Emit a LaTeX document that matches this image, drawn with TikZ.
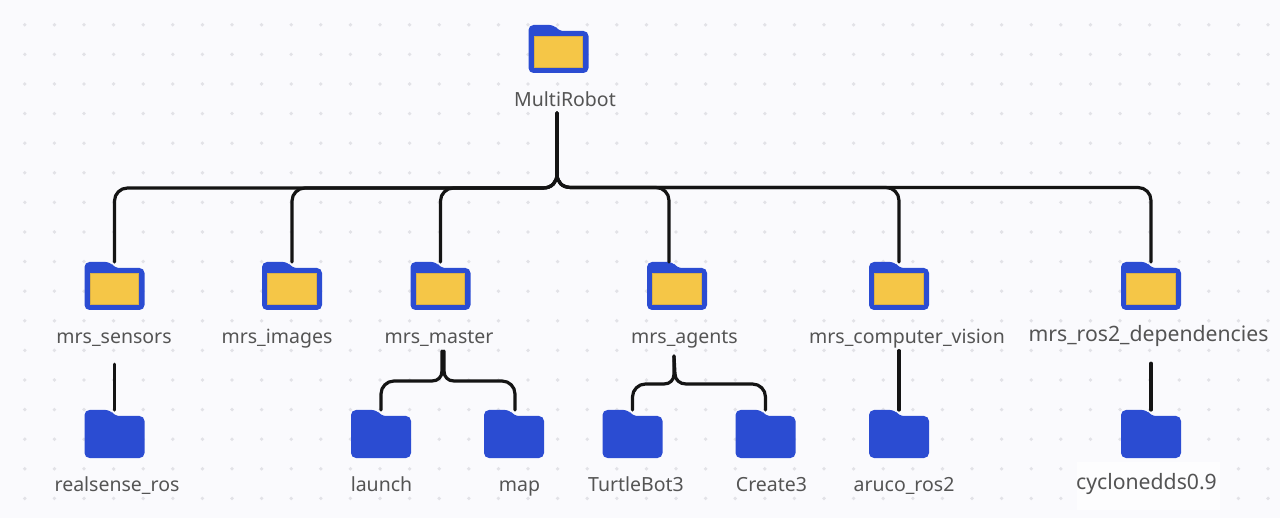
\documentclass[tikz,border=0pt]{standalone}
\usepackage{fontspec}
\setmainfont{Noto Sans}
\definecolor{bgc}{HTML}{FAFAFD}
\definecolor{dotc}{HTML}{E2E2E7}
\definecolor{blu}{HTML}{2B4CD2}
\definecolor{yel}{HTML}{F5C647}
\definecolor{yeld}{HTML}{D9B04A}
\definecolor{txt}{HTML}{545454}
\definecolor{wirec}{HTML}{141414}
\tikzset{
  x=1pt,y=-1pt,
  wire/.style={draw=wirec,line width=3.2pt,line cap=round,line join=round},
  lbl/.style={font=\fontsize{19.5}{22}\selectfont,text=txt,inner sep=0pt,text height=14pt,text depth=5pt,minimum height=28pt,anchor=center},
  lblbig/.style={lbl,font=\fontsize{21.2}{24}\selectfont},
  fold/.style={inner sep=0pt,minimum width=60pt,minimum height=48pt,outer sep=0pt},
}
% \foldershape{name}{cx}{top y}{with yellow?}
\newcommand{\foldershape}[4]{%
  \begin{scope}[shift={(#2-30,#3)}]
    \fill[blu,rounded corners=5pt] (0,0) -- (26,0) -- (30,6) -- (60,6) -- (60,48) -- (0,48) -- cycle;
    \if#41\fill[yel,draw=yeld,line width=0.5pt] (5.6,11.6) rectangle (54,42);\fi
  \end{scope}
  \node[fold] (#1) at (#2,#3+24) {};%
}
\begin{document}
\begin{tikzpicture}
\useasboundingbox (0,0) rectangle (1280,518);
\fill[bgc] (0,0) rectangle (1280,518);
\foreach \i in {0,...,43}{\foreach \j in {0,...,17}{
  \fill[dotc] ({24.8+29.6*\i},{24.8+29.6*\j}) circle (1.9pt);
}}
\fill[white!70!bgc] (1077,462) rectangle (1220,510);
% folders
\foldershape{root}{558.5}{25}{1}
\foldershape{sensors}{114.5}{262}{1}
\foldershape{images}{292}{262}{1}
\foldershape{master}{440.5}{262}{1}
\foldershape{agents}{677}{262}{1}
\foldershape{vision}{899}{262}{1}
\foldershape{deps}{1151}{262}{1}
\foldershape{realsense}{114.5}{410}{0}
\foldershape{launch}{381}{410}{0}
\foldershape{map}{514}{410}{0}
\foldershape{turtle}{632.5}{410}{0}
\foldershape{create}{765.5}{410}{0}
\foldershape{aruco}{899}{410}{0}
\foldershape{cyclone}{1151}{410}{0}
% labels
\node[lbl] (lroot) at (565,102.3) {MultiRobot};
\node[lbl] (lsensors) at (114,339) {mrs\_sensors};
\node[lbl] (limages) at (277,339) {mrs\_images};
\node[lbl] (lmaster) at (439,339) {mrs\_master};
\node[lbl] (lagents) at (684.5,339) {mrs\_agents};
\node[lbl] (lvision) at (907,339) {mrs\_computer\_vision};
\node[lblbig] (ldeps) at (1148.5,337) {mrs\_ros2\_dependencies};
\node[lbl] (lrealsense) at (117,486.6) {realsense\_ros};
\node[lbl] (llaunch) at (381.5,486.6) {launch};
\node[lbl] (lmap) at (519.5,486.6) {map};
\node[lbl] (lturtle) at (636,486.6) {TurtleBot3};
\node[lbl] (lcreate) at (771.5,486.6) {Create3};
\node[lbl] (laruco) at (904,486.6) {aruco\_ros2};
\node[lblbig] (lcyclone) at (1146.5,484.6) {cyclonedds0.9};
% connectors
\coordinate (hub) at (557,113);
\draw[wire] (hub) -- (557,174) .. controls (557,182) and (552,188) .. (543,188)
    [rounded corners=13pt] -| (sensors.north);
\draw[wire] (hub) -- (557,174) .. controls (557,182) and (552,188) .. (543,188)
    [rounded corners=13pt] -| (images.north);
\draw[wire] (hub) -- (557,174) .. controls (557,182) and (552,188) .. (543,188)
    [rounded corners=13pt] -| (master.north);
\draw[wire] (hub) -- (557,174) .. controls (557,182) and (562,187.5) .. (571,187.5)
    [rounded corners=13pt] -| ([xshift=-8pt]agents.north);
\draw[wire] (hub) -- (557,174) .. controls (557,182) and (562,187.5) .. (571,187.5)
    [rounded corners=13pt] -| (vision.north);
\draw[wire] (hub) -- (557,174) .. controls (557,182) and (562,187.5) .. (571,187.5)
    [rounded corners=13pt] -| (deps.north);
\coordinate (mhub) at (442,351);
\coordinate (mhubb) at (444,351);
\draw[wire] (mhub) -- (442,371) .. controls (442,377) and (438,381) .. (432,381)
    [rounded corners=13pt] -| (launch.north);
\draw[wire] (mhubb) -- (444,371) .. controls (444,377) and (448,381) .. (454,381)
    [rounded corners=13pt] -| ([xshift=1pt]map.north);
\coordinate (ahub) at (674,356);
\draw[wire] (ahub) -- (674,374) .. controls (674,380) and (670,384) .. (664,384)
    [rounded corners=13pt] -| (turtle.north);
\draw[wire] (ahub) -- (675,374) .. controls (675,380) and (680,384) .. (686,384)
    [rounded corners=13pt] -| (create.north);
\draw[wire] ([yshift=-11pt]lsensors.south -| realsense.north) -- (realsense.north);
\draw[wire] ([yshift=2.6pt]lvision.south -| aruco.north) -- (aruco.north);
\draw[wire] ([yshift=-12pt]ldeps.south -| cyclone.north) -- (cyclone.north);
\end{tikzpicture}
\end{document}
